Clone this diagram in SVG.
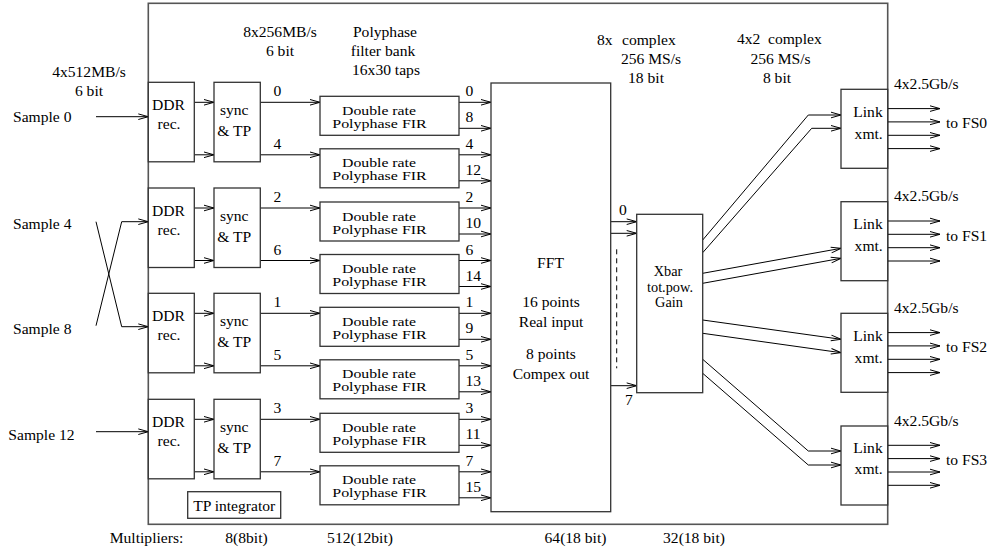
<svg xmlns="http://www.w3.org/2000/svg" width="993" height="553" viewBox="0 0 993 553" font-family="'Liberation Serif', 'Times New Roman', serif">
<style>
.box{fill:#fff;stroke:#333;stroke-width:1.3}
.outer{fill:none;stroke:#555;stroke-width:1.6}
.c{fill:none;stroke:#000;stroke-width:1;marker-end:url(#ah)}
.d{fill:none;stroke:#000;stroke-width:1;stroke-dasharray:5,4}
text{font-family:'Liberation Serif','Times New Roman',serif;font-size:15.6px;fill:#000}
.m{text-anchor:middle}
.fir{font-size:12px;text-anchor:middle}
.xb{font-size:14.3px;text-anchor:middle}
</style>
<defs>
<marker id="ah" viewBox="-11 -4 12 8" refX="0" refY="0" markerWidth="12" markerHeight="8" markerUnits="userSpaceOnUse" orient="auto">
<path d="M-10,-2.8 L0,0 L-10,2.8" fill="none" stroke="#000" stroke-width="1"/>
</marker>
</defs>
<rect width="993" height="553" fill="#fff"/>

<g id="board"><rect class="outer" x="148.3" y="3.3" width="739.4" height="521"/></g>

<g id="labels">
<text class="m" x="89" y="76.5">4x512MB/s</text>
<text class="m" x="89" y="96">6 bit</text>
<text class="m" x="280" y="37.3">8x256MB/s</text>
<text class="m" x="280" y="56">6 bit</text>
<text class="m" x="385" y="37">Polyphase</text>
<text class="m" x="383" y="55.5">filter bank</text>
<text class="m" x="386" y="75">16x30 taps</text>
<text x="597" y="45">8x<tspan x="622">complex</tspan></text>
<text class="m" x="651" y="63.5">256 MS/s</text>
<text class="m" x="646" y="83">18 bit</text>
<text x="737" y="44">4x2<tspan x="768">complex</tspan></text>
<text class="m" x="780.5" y="63.5">256 MS/s</text>
<text class="m" x="777" y="83">8 bit</text>
<text x="13" y="122.3">Sample 0</text>
<text x="13" y="228.5">Sample 4</text>
<text x="13" y="334.3">Sample 8</text>
<text x="8.3" y="439.5">Sample 12</text>
<text class="m" x="146.5" y="543.3">Multipliers:</text>
<text class="m" x="246.5" y="543.3">8(8bit)</text>
<text class="m" x="360" y="543.3">512(12bit)</text>
<text class="m" x="575.5" y="543.3">64(18 bit)</text>
<text class="m" x="694" y="543.3">32(18 bit)</text>
<text class="m" x="277.5" y="96.3">0</text>
<text class="m" x="277.5" y="148.8">4</text>
<text class="m" x="277.5" y="202">2</text>
<text class="m" x="277.5" y="254.5">6</text>
<text class="m" x="277.5" y="307.3">1</text>
<text class="m" x="277.5" y="359.8">5</text>
<text class="m" x="277.5" y="413.3">3</text>
<text class="m" x="277.5" y="465.8">7</text>
<text x="465.5" y="96.3">0</text><text x="465.5" y="122.3">8</text>
<text x="465.5" y="148.8">4</text><text x="465.5" y="174.8">12</text>
<text x="465.5" y="202">2</text><text x="465.5" y="228">10</text>
<text x="465.5" y="254.5">6</text><text x="465.5" y="280.5">14</text>
<text x="465.5" y="307.3">1</text><text x="465.5" y="333.3">9</text>
<text x="465.5" y="359.8">5</text><text x="465.5" y="385.8">13</text>
<text x="465.5" y="413.3">3</text><text x="465.5" y="439.3">11</text>
<text x="465.5" y="465.8">7</text><text x="465.5" y="491.8">15</text>
<text class="m" x="623" y="215">0</text>
<text class="m" x="629" y="405">7</text>
<text x="894" y="88.8">4x2.5Gb/s</text>
<text x="894" y="201.2">4x2.5Gb/s</text>
<text x="894" y="312.8">4x2.5Gb/s</text>
<text x="894" y="425.5">4x2.5Gb/s</text>
<text x="946" y="128.3">to FS0</text>
<text x="946" y="240.7">to FS1</text>
<text x="946" y="352.3">to FS2</text>
<text x="946" y="465">to FS3</text>
</g>

<g id="connectors">
<path class="c" d="M96,116.7H148.3"/>
<path class="c" d="M96,221.7L121.7,326.7H148.3"/>
<path class="c" d="M96,325.7L121.7,221.7H148.3"/>
<path class="c" d="M96,431.7H148.3"/>
<path class="c" d="M194.3,102.3H214"/><path class="c" d="M194.3,154.8H214"/>
<path class="c" d="M194.3,208H214"/><path class="c" d="M194.3,260.5H214"/>
<path class="c" d="M194.3,313.3H214"/><path class="c" d="M194.3,365.8H214"/>
<path class="c" d="M194.3,419.3H214"/><path class="c" d="M194.3,471.8H214"/>
<path class="c" d="M260.3,102.3H320"/><path class="c" d="M260.3,154.8H320"/>
<path class="c" d="M260.3,208H320"/><path class="c" d="M260.3,260.5H320"/>
<path class="c" d="M260.3,313.3H320"/><path class="c" d="M260.3,365.8H320"/>
<path class="c" d="M260.3,419.3H320"/><path class="c" d="M260.3,471.8H320"/>
<path class="c" d="M459,102.3H491"/><path class="c" d="M459,128.3H491"/>
<path class="c" d="M459,154.8H491"/><path class="c" d="M459,180.8H491"/>
<path class="c" d="M459,208H491"/><path class="c" d="M459,234H491"/>
<path class="c" d="M459,260.5H491"/><path class="c" d="M459,286.5H491"/>
<path class="c" d="M459,313.3H491"/><path class="c" d="M459,339.3H491"/>
<path class="c" d="M459,365.8H491"/><path class="c" d="M459,391.8H491"/>
<path class="c" d="M459,419.3H491"/><path class="c" d="M459,445.3H491"/>
<path class="c" d="M459,471.8H491"/><path class="c" d="M459,497.8H491"/>
<path class="c" d="M610.7,221.7H636.7"/>
<path class="c" d="M610.7,233.3H636.7"/>
<path class="c" d="M610.7,385.7H636.7"/>
<path class="d" d="M616.7,249.3V368.3"/>
<path class="c" d="M702.7,240L808.3,115H841"/>
<path class="c" d="M702.7,252.7L811.7,128.3H841"/>
<path class="c" d="M702.7,273.3L841,248.3"/>
<path class="c" d="M702.7,283.3L841,258.3"/>
<path class="c" d="M702.7,320L841,339.3"/>
<path class="c" d="M702.7,333.3L841,352.7"/>
<path class="c" d="M702.7,359.3L808.3,451H841"/>
<path class="c" d="M702.7,373.3L808.3,465H841"/>
<path class="c" d="M887.7,108.6H940"/><path class="c" d="M887.7,121.9H940"/>
<path class="c" d="M887.7,135.3H940"/><path class="c" d="M887.7,148.6H940"/>
<path class="c" d="M887.7,221H940"/><path class="c" d="M887.7,234.3H940"/>
<path class="c" d="M887.7,247.7H940"/><path class="c" d="M887.7,261H940"/>
<path class="c" d="M887.7,332.6H940"/><path class="c" d="M887.7,345.9H940"/>
<path class="c" d="M887.7,359.3H940"/><path class="c" d="M887.7,372.6H940"/>
<path class="c" d="M887.7,445.3H940"/><path class="c" d="M887.7,458.6H940"/>
<path class="c" d="M887.7,472H940"/><path class="c" d="M887.7,485.3H940"/>
</g>

<g id="ddr0"><rect class="box" x="148.3" y="82.3" width="46" height="79.5"/><text class="m" x="168.5" y="110.3">DDR</text><text class="m" x="169" y="129.3">rec.</text></g>
<g id="ddr1"><rect class="box" x="148.3" y="188" width="46" height="79.5"/><text class="m" x="168.5" y="216">DDR</text><text class="m" x="169" y="235">rec.</text></g>
<g id="ddr2"><rect class="box" x="148.3" y="293.3" width="46" height="79.5"/><text class="m" x="168.5" y="321.3">DDR</text><text class="m" x="169" y="340.3">rec.</text></g>
<g id="ddr3"><rect class="box" x="148.3" y="399.3" width="46" height="79.5"/><text class="m" x="168.5" y="427.3">DDR</text><text class="m" x="169" y="446.3">rec.</text></g>

<g id="sync0"><rect class="box" x="214" y="82.3" width="46.3" height="79.5"/><text class="m" x="234.2" y="115.3">sync</text><text class="m" x="234.2" y="136.3">&amp; TP</text></g>
<g id="sync1"><rect class="box" x="214" y="188" width="46.3" height="79.5"/><text class="m" x="234.2" y="221">sync</text><text class="m" x="234.2" y="242">&amp; TP</text></g>
<g id="sync2"><rect class="box" x="214" y="293.3" width="46.3" height="79.5"/><text class="m" x="234.2" y="326.3">sync</text><text class="m" x="234.2" y="347.3">&amp; TP</text></g>
<g id="sync3"><rect class="box" x="214" y="399.3" width="46.3" height="79.5"/><text class="m" x="234.2" y="432.3">sync</text><text class="m" x="234.2" y="453.3">&amp; TP</text></g>

<g id="fir0"><rect class="box" x="320" y="96.3" width="139" height="39"/><text class="fir" x="379" y="114.8" textLength="74" lengthAdjust="spacingAndGlyphs">Double rate</text><text class="fir" x="379.5" y="127.8" textLength="94.5" lengthAdjust="spacingAndGlyphs">Polyphase FIR</text></g>
<g id="fir1"><rect class="box" x="320" y="148.8" width="139" height="39"/><text class="fir" x="379" y="167.3" textLength="74" lengthAdjust="spacingAndGlyphs">Double rate</text><text class="fir" x="379.5" y="180.3" textLength="94.5" lengthAdjust="spacingAndGlyphs">Polyphase FIR</text></g>
<g id="fir2"><rect class="box" x="320" y="202" width="139" height="39"/><text class="fir" x="379" y="220.5" textLength="74" lengthAdjust="spacingAndGlyphs">Double rate</text><text class="fir" x="379.5" y="233.5" textLength="94.5" lengthAdjust="spacingAndGlyphs">Polyphase FIR</text></g>
<g id="fir3"><rect class="box" x="320" y="254.5" width="139" height="39"/><text class="fir" x="379" y="273" textLength="74" lengthAdjust="spacingAndGlyphs">Double rate</text><text class="fir" x="379.5" y="286" textLength="94.5" lengthAdjust="spacingAndGlyphs">Polyphase FIR</text></g>
<g id="fir4"><rect class="box" x="320" y="307.3" width="139" height="39"/><text class="fir" x="379" y="325.8" textLength="74" lengthAdjust="spacingAndGlyphs">Double rate</text><text class="fir" x="379.5" y="338.8" textLength="94.5" lengthAdjust="spacingAndGlyphs">Polyphase FIR</text></g>
<g id="fir5"><rect class="box" x="320" y="359.8" width="139" height="39"/><text class="fir" x="379" y="378.3" textLength="74" lengthAdjust="spacingAndGlyphs">Double rate</text><text class="fir" x="379.5" y="391.3" textLength="94.5" lengthAdjust="spacingAndGlyphs">Polyphase FIR</text></g>
<g id="fir6"><rect class="box" x="320" y="413.3" width="139" height="39"/><text class="fir" x="379" y="431.8" textLength="74" lengthAdjust="spacingAndGlyphs">Double rate</text><text class="fir" x="379.5" y="444.8" textLength="94.5" lengthAdjust="spacingAndGlyphs">Polyphase FIR</text></g>
<g id="fir7"><rect class="box" x="320" y="465.8" width="139" height="39"/><text class="fir" x="379" y="484.3" textLength="74" lengthAdjust="spacingAndGlyphs">Double rate</text><text class="fir" x="379.5" y="497.3" textLength="94.5" lengthAdjust="spacingAndGlyphs">Polyphase FIR</text></g>

<g id="fft"><rect class="box" x="491" y="83" width="119.7" height="428.7"/>
<text class="m" x="550.5" y="268.3">FFT</text>
<text class="m" x="551" y="307.3">16 points</text>
<text class="m" x="551" y="326.7">Real input</text>
<text class="m" x="551" y="359.3">8 points</text>
<text class="m" x="551" y="379.3">Compex out</text></g>

<g id="xbar"><rect class="box" x="636.7" y="214.3" width="66" height="178.4"/>
<text class="xb" x="668" y="276">Xbar</text>
<text class="xb" x="670" y="291.5">tot.pow.</text>
<text class="xb" x="669" y="307.3">Gain</text></g>

<g id="link0"><rect class="box" x="841" y="89.3" width="46.7" height="79"/><text class="m" x="868" y="117">Link</text><text class="m" x="868.7" y="138.6">xmt.</text></g>
<g id="link1"><rect class="box" x="841" y="201.7" width="46.7" height="79"/><text class="m" x="868" y="229.4">Link</text><text class="m" x="868.7" y="251">xmt.</text></g>
<g id="link2"><rect class="box" x="841" y="313.3" width="46.7" height="79"/><text class="m" x="868" y="341">Link</text><text class="m" x="868.7" y="362.6">xmt.</text></g>
<g id="link3"><rect class="box" x="841" y="426" width="46.7" height="79"/><text class="m" x="868" y="452.7">Link</text><text class="m" x="868.7" y="474.3">xmt.</text></g>

<g id="tp-integrator"><rect class="box" x="187.7" y="491.7" width="93" height="26.6"/><text class="m" x="234.2" y="510.5">TP integrator</text></g>
</svg>
